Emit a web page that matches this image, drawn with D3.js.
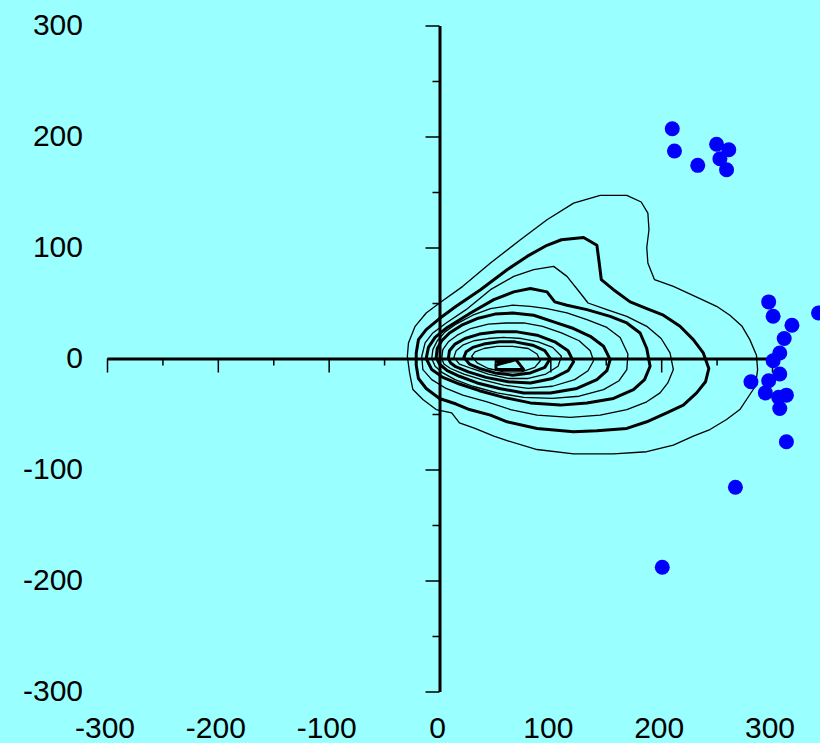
<!DOCTYPE html>
<html><head><meta charset="utf-8">
<script src="https://cdn.jsdelivr.net/npm/d3@7"></script>
<style>html,body{margin:0;padding:0;background:#99FFFF;overflow:hidden;} svg{display:block;}</style>
</head><body>
<svg id="chart" width="820" height="743"></svg>
<script>
// ---- data ----
const xTickValues = [-300, -200, -100, 0, 100, 200, 300];
const xTickLabels = ["-300", "-200", "-100", "0", "100", "200", "300"];
const yTickValues = [-300, -200, -100, 0, 100, 200, 300];
const yTickLabels = ["-300", "-200", "-100", "0", "100", "200", "300"];
const minorTickValues = [-250, -150, -50, 50, 150, 250];

const pointsX = [210, 212, 233, 250, 261, 253, 259, 297, 301, 342, 318, 311, 307, 301, 307, 281, 297, 294, 306, 313, 307, 313, 267, 201];
const pointsY = [207, 187, 174, 193, 188, 180, 170, 51, 38, 41, 30, 18, 5, -2, -14, -21, -20, -31, -35, -33, -45, -75, -116, -188];

const contour1 = [[145,147],[169,147],[182,141],[188,131],[189,116],[187,100],[188,86],[194,71],[211,65],[235,54],[250,47],[262,39],[273,29],[280,17],[286,3],[287,-10],[285,-25],[279,-34],[271,-46],[259,-55],[244,-64],[229,-70],[211,-78],[187,-84],[157,-86],[121,-86],[88,-82],[61,-74],[49,-70],[32,-63],[18,-58],[11,-49],[-3,-46],[-15,-37],[-24,-28],[-27,-13],[-29,2],[-28,14],[-22,29],[-12,41],[0,50],[21,65],[46,86],[73,107],[97,125],[121,140]];
const contour2 = [[-21,5],[-19,17],[-12,26],[0,36],[15,47],[37,62],[61,80],[79,92],[97,102],[110,107],[130,109],[142,102],[144,87],[146,71],[157,62],[172,51],[187,45],[202,39],[217,29],[229,17],[238,5],[243,-9],[240,-21],[232,-31],[220,-42],[205,-49],[187,-57],[169,-63],[142,-65],[121,-66],[88,-63],[61,-57],[46,-51],[27,-46],[15,-41],[0,-36],[-12,-27],[-19,-18],[-21,-6]];
const contour3 = [[85,80],[103,83],[115,74],[127,59],[134,50],[151,44],[169,38],[187,29],[200,18],[208,5],[211,-10],[206,-22],[199,-31],[187,-39],[169,-46],[145,-51],[118,-53],[88,-51],[64,-46],[43,-39],[21,-33],[6,-27],[-7,-19],[-15,-10],[-16,2],[-13,14],[-6,23],[6,32],[24,44],[46,62],[67,74]];
const contour4 = [[67,60],[82,63],[97,60],[104,51],[115,48],[133,44],[154,38],[169,32],[181,23],[187,9],[190,-7],[185,-19],[175,-28],[157,-36],[133,-40],[109,-42],[82,-40],[58,-35],[36,-29],[18,-23],[3,-17],[-7,-10],[-12,0],[-10,10],[-4,19],[7,28],[28,41],[49,53]];
const contour5 = [[-7,0],[-6,8],[-2,16],[5,24],[15,31],[30,39],[46,45],[66,48],[82,47],[97,45],[115,41],[133,35],[151,28],[163,19],[170,4],[169,-10],[162,-20],[148,-28],[126,-34],[102,-36],[76,-35],[52,-31],[30,-25],[14,-19],[3,-13],[-4,-7]];
const contour6 = [[-3,1],[-2,9],[2,16],[9,23],[20,30],[34,36],[50,40],[66,41],[85,39],[103,33],[121,27],[136,20],[148,11],[154,-1],[151,-11],[142,-19],[124,-27],[100,-31],[76,-31],[54,-27],[34,-22],[18,-16],[7,-11],[0,-5]];
const contour7 = [[2,0],[3,8],[8,15],[16,21],[28,27],[44,31],[60,32],[76,32],[93,29],[110,23],[126,16],[136,7],[139,-2],[134,-11],[122,-19],[102,-25],[80,-27],[58,-24],[38,-19],[22,-14],[10,-9],[4,-5]];
const contour8 = [[8,0],[9,7],[14,13],[23,18],[36,22],[52,24],[70,24],[88,21],[104,15],[116,7],[121,-3],[116,-11],[102,-18],[82,-22],[62,-21],[42,-17],[26,-12],[14,-7],[10,-4]];
const contour9 = [[13,1],[15,7],[21,12],[31,16],[44,18],[58,19],[74,18],[89,15],[102,10],[110,2],[107,-7],[96,-14],[80,-18],[62,-18],[44,-14],[29,-9],[18,-5]];
const contour10 = [[22,1],[24,6],[30,10],[40,13],[54,15],[68,15],[84,12],[95,7],[100,0],[95,-8],[82,-13],[66,-15],[50,-13],[36,-9],[27,-5]];
const contour11 = [[29,2],[32,6],[40,9],[52,11],[66,11],[80,9],[88,4],[91,-2],[86,-8],[74,-12],[58,-12],[44,-9],[34,-4]];
const contour12 = [[51,-3],[69,-1],[76,-10],[51,-10],[51,-6],[69,-1]];

const contours = [contour1, contour2, contour3, contour4, contour5, contour6, contour7, contour8, contour9, contour10, contour11, contour12];

// ---- drawing ----
const svg = d3.select("#chart");
const W = 820, H = 743;
svg.append("rect").attr("width", W).attr("height", H).attr("fill", "#99FFFF");

const x = d3.scaleLinear().domain([-300, 300]).range([107, 772]);
const y = d3.scaleLinear().domain([-300, 300]).range([691.5, 25.5]);

const closedLine = d3.line().x(d => x(d[0])).y(d => y(d[1])).curve(d3.curveLinearClosed);
const openLine = d3.line().x(d => x(d[0])).y(d => y(d[1]));

svg.append("g").selectAll("path").data(contours).join("path")
  .attr("d", (d, i) => i === contours.length - 1 ? openLine(d) : closedLine(d))
  .attr("fill", "none")
  .attr("stroke", "#000")
  .attr("stroke-linejoin", "round")
  .attr("stroke-width", (d, i) => i % 2 === 1 ? 3 : 1.3);

// axes
function styleAxis(g, domainWidth) {
  g.select(".domain").attr("stroke", "#000").attr("stroke-width", domainWidth);
  g.selectAll(".tick line").attr("stroke", "#000").attr("stroke-width", 1.5);
  g.selectAll(".tick text").remove();
}
const xMajor = svg.append("g").attr("transform", `translate(0,${y(0)})`)
  .call(d3.axisBottom(x).tickValues(xTickValues).tickSize(14).tickSizeOuter(0).tickFormat(() => ""));
styleAxis(xMajor, 3);
const xMinor = svg.append("g").attr("transform", `translate(0,${y(0)})`)
  .call(d3.axisBottom(x).tickValues(minorTickValues).tickSize(7).tickSizeOuter(0).tickFormat(() => ""));
styleAxis(xMinor, 0); xMinor.select(".domain").remove();

const yMajor = svg.append("g").attr("transform", `translate(${x(0)},0)`)
  .call(d3.axisLeft(y).tickValues(yTickValues).tickSize(14).tickSizeOuter(0).tickFormat(() => ""));
styleAxis(yMajor, 3);
const yMinor = svg.append("g").attr("transform", `translate(${x(0)},0)`)
  .call(d3.axisLeft(y).tickValues(minorTickValues).tickSize(7).tickSizeOuter(0).tickFormat(() => ""));
styleAxis(yMinor, 0); yMinor.select(".domain").remove();

// labels
const font = "'Liberation Sans', Arial, sans-serif";
svg.append("g").selectAll("text").data(xTickValues).join("text")
  .attr("x", d => x(d) - 2).attr("y", 738)
  .attr("text-anchor", "middle")
  .attr("font-family", font).attr("font-size", 30).attr("fill", "#000")
  .text((d, i) => xTickLabels[i]);
svg.append("g").selectAll("text").data(yTickValues).join("text")
  .attr("x", 83).attr("y", d => y(d) + 9)
  .attr("text-anchor", "end")
  .attr("font-family", font).attr("font-size", 30).attr("fill", "#000")
  .text((d, i) => yTickLabels[i]);

// points
svg.append("g").selectAll("circle").data(pointsX).join("circle")
  .attr("cx", d => x(d)).attr("cy", (d, i) => y(pointsY[i]))
  .attr("r", 7.5).attr("fill", "#0000FF");
</script>
</body></html>
